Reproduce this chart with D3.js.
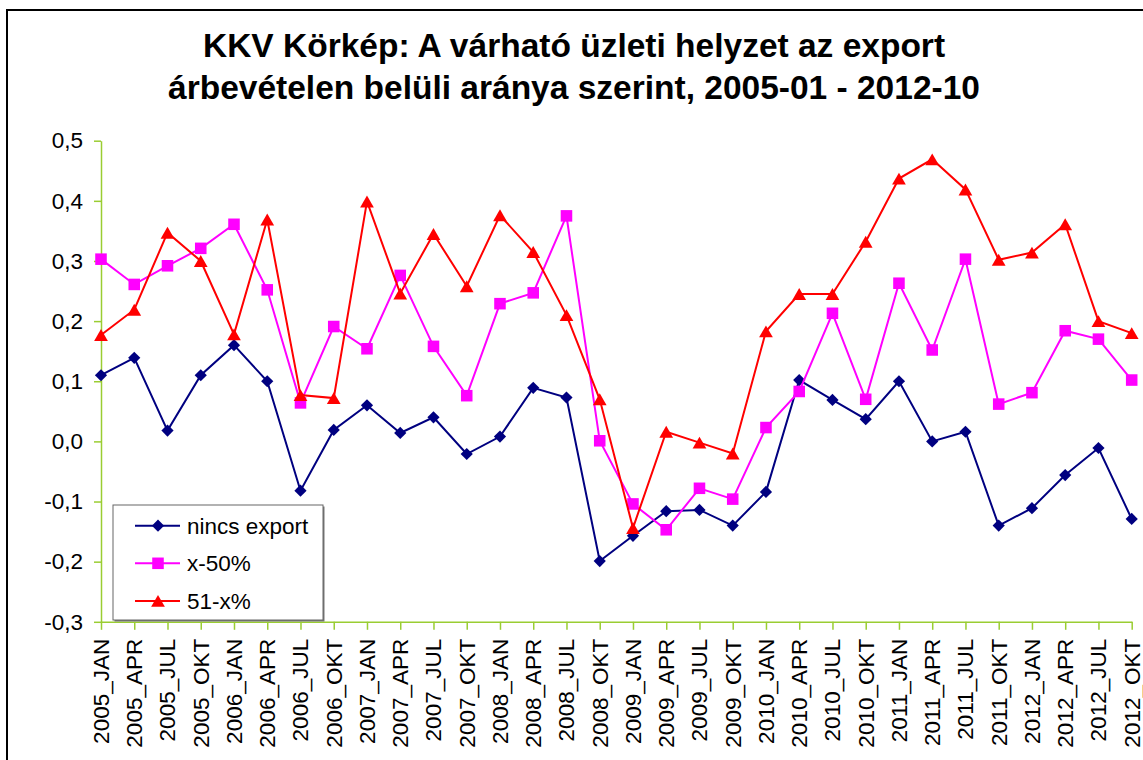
<!DOCTYPE html>
<html>
<head>
<meta charset="utf-8">
<script src="https://cdn.jsdelivr.net/npm/d3@7"></script>
<style>
  body { margin: 0; background: #fff; }
  svg { font-family: "Liberation Sans", Arial, sans-serif; }
</style>
</head>
<body>
<div id="chart"></div>
<script>
// categories (quarters)
var categories = ["2005_JAN","2005_APR","2005_JUL","2005_OKT","2006_JAN","2006_APR","2006_JUL","2006_OKT",
  "2007_JAN","2007_APR","2007_JUL","2007_OKT","2008_JAN","2008_APR","2008_JUL","2008_OKT",
  "2009_JAN","2009_APR","2009_JUL","2009_OKT","2010_JAN","2010_APR","2010_JUL","2010_OKT",
  "2011_JAN","2011_APR","2011_JUL","2011_OKT","2012_JAN","2012_APR","2012_JUL","2012_OKT"];

// series values
var nincsExport = [0.110, 0.139, 0.018, 0.110, 0.160, 0.100, -0.082, 0.019,
  0.060, 0.014, 0.040, -0.021, 0.008, 0.089, 0.073, -0.199,
  -0.157, -0.116, -0.114, -0.140, -0.084, 0.102, 0.069, 0.037,
  0.100, 0.000, 0.016, -0.140, -0.111, -0.056, -0.011, -0.129];
var x50 = [0.303, 0.261, 0.292, 0.321, 0.361, 0.252, 0.064, 0.191,
  0.154, 0.276, 0.158, 0.076, 0.229, 0.247, 0.375, 0.001,
  -0.104, -0.147, -0.078, -0.096, 0.023, 0.083, 0.213, 0.070,
  0.263, 0.152, 0.303, 0.062, 0.081, 0.184, 0.170, 0.102];
var x51 = [0.177, 0.219, 0.347, 0.300, 0.178, 0.369, 0.077, 0.072,
  0.399, 0.246, 0.345, 0.258, 0.376, 0.315, 0.210, 0.070,
  -0.144, 0.016, -0.002, -0.020, 0.183, 0.245, 0.245, 0.332,
  0.437, 0.469, 0.419, 0.302, 0.314, 0.361, 0.200, 0.180];

// tick values
var yTicks = [-0.3, -0.2, -0.1, 0.0, 0.1, 0.2, 0.3, 0.4, 0.5];
var titleLines = ["KKV Körkép: A várható üzleti helyzet az export",
  "árbevételen belüli aránya szerint, 2005-01 - 2012-10"];

// dy centres the triangle on its box, like the original markers
var series = [
  {name: "nincs export", values: nincsExport, color: "#000080", symbol: d3.symbolDiamond2, size: 95, dy: 0},
  {name: "x-50%", values: x50, color: "#ff00ff", symbol: d3.symbolSquare2, size: 170, dy: 0},
  {name: "51-x%", values: x51, color: "#ff0000", symbol: d3.symbolTriangle2, size: 135, dy: 2}
];

var width = 1143, height = 760;
var axisColor = "#9acd32";

var svg = d3.select("#chart").append("svg")
    .attr("width", width)
    .attr("height", height);

// chart area border
svg.append("rect")
    .attr("x", 7).attr("y", 10)
    .attr("width", 1160).attr("height", 780)
    .attr("fill", "#fff")
    .attr("stroke", "#000")
    .attr("stroke-width", 2);

// title
svg.append("text")
    .attr("text-anchor", "middle")
    .attr("font-size", 33.5)
    .attr("font-weight", "bold")
    .selectAll("tspan")
    .data(titleLines)
    .enter().append("tspan")
    .attr("x", 574)
    .attr("y", function(d, i) { return 57 + i * 42; })
    .text(function(d) { return d; });

var x = d3.scalePoint().domain(categories).range([101, 1131.7]);
var y = d3.scaleLinear().domain([-0.3, 0.5]).range([621.8, 140.7]);

// y axis
var yAxis = svg.append("g")
    .attr("transform", "translate(101,0)")
    .call(d3.axisLeft(y).tickValues(yTicks).tickSize(7).tickSizeOuter(0).tickPadding(11)
      .tickFormat(function(d) { return d3.format(".1f")(d).replace(".", ",").replace("\u2212", "-"); }));
yAxis.attr("font-size", 22.5).attr("font-family", null);
yAxis.select(".domain").attr("stroke", axisColor).attr("stroke-width", 1.5);
yAxis.selectAll(".tick line").attr("stroke", axisColor).attr("stroke-width", 1.5);
yAxis.selectAll(".tick text").attr("fill", "#000");

// x axis
var xAxis = svg.append("g")
    .attr("transform", "translate(0,621.8)")
    .call(d3.axisBottom(x).tickSize(8).tickSizeOuter(0));
xAxis.attr("font-size", 22.5).attr("font-family", null);
xAxis.select(".domain").attr("stroke", axisColor).attr("stroke-width", 1.5);
xAxis.selectAll(".tick line").attr("stroke", axisColor).attr("stroke-width", 1.5);
xAxis.selectAll(".tick text")
    .attr("fill", "#000")
    .attr("text-anchor", "end")
    .attr("transform", "rotate(-90)")
    .attr("x", -17)
    .attr("y", 0)
    .attr("dy", "0.33em");

// lines and markers
var line = d3.line()
    .x(function(d, i) { return x(categories[i]); })
    .y(function(d) { return y(d); });

series.forEach(function(s) {
  svg.append("path")
      .datum(s.values)
      .attr("fill", "none")
      .attr("stroke", s.color)
      .attr("stroke-width", 2)
      .attr("d", line);
  svg.selectAll(null)
      .data(s.values)
      .enter().append("path")
      .attr("transform", function(d, i) { return "translate(" + x(categories[i]) + "," + (y(d) + s.dy) + ")"; })
      .attr("d", d3.symbol().type(s.symbol).size(s.size))
      .attr("fill", s.color);
});

// legend
var legend = svg.append("g");
legend.append("rect")
    .attr("x", 114.5).attr("y", 506.5)
    .attr("width", 210).attr("height", 115)
    .attr("fill", "#777");
legend.append("rect")
    .attr("x", 113).attr("y", 505)
    .attr("width", 210).attr("height", 115)
    .attr("fill", "#fff")
    .attr("stroke", "#666")
    .attr("stroke-width", 1);

var items = legend.selectAll("g.item")
    .data(series)
    .enter().append("g")
    .attr("class", "item")
    .attr("transform", function(d, i) { return "translate(0," + (525.7 + i * 37.6) + ")"; });
items.append("line")
    .attr("x1", 135).attr("x2", 180)
    .attr("stroke", function(d) { return d.color; })
    .attr("stroke-width", 2);
items.append("path")
    .attr("transform", function(d) { return "translate(158," + d.dy + ")"; })
    .attr("d", function(d) { return d3.symbol().type(d.symbol).size(d.size)(); })
    .attr("fill", function(d) { return d.color; });
items.append("text")
    .attr("x", 187)
    .attr("dy", "0.36em")
    .attr("font-size", 22.5)
    .text(function(d) { return d.name; });
</script>
</body>
</html>
